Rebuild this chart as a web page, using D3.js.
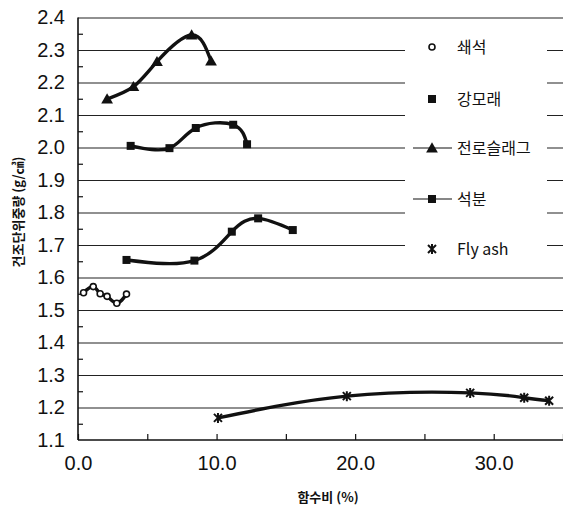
<!DOCTYPE html>
<html>
<head>
<meta charset="utf-8">
<script src="https://cdn.jsdelivr.net/npm/d3@7"></script>
<style>
  html, body { margin: 0; padding: 0; background: #fff; overflow: hidden; }
  svg { display: block; }
</style>
</head>
<body>
<div id="chart"></div>
<script>
// series (moisture content %, dry unit weight g/cm3)
const seriesNames = ["쇄석", "강모래", "전로슬래그", "석분", "Fly ash"];

const xCrushed = [0.4, 1.1, 1.6, 2.1, 2.8, 3.5];
const yCrushed = [1.553, 1.572, 1.550, 1.542, 1.521, 1.549];

const xSand = [3.5, 8.4, 11.1, 13.0, 15.5];
const ySand = [1.654, 1.652, 1.741, 1.782, 1.746];

const xSlag = [2.1, 4.0, 5.7, 8.2, 9.6];
const ySlag = [2.149, 2.187, 2.264, 2.346, 2.266];

const xDust = [3.8, 6.6, 8.5, 11.2, 12.2];
const yDust = [2.005, 1.998, 2.060, 2.070, 2.010];

const xFly = [10.1, 19.4, 28.3, 32.2, 34.0];
const yFly = [1.168, 1.235, 1.245, 1.230, 1.221];

const xTickLabels = [0, 10, 20, 30];
const yTickLabels = [1.1, 1.2, 1.3, 1.4, 1.5, 1.6, 1.7, 1.8, 1.9, 2.0, 2.1, 2.2, 2.3, 2.4];

const numFont = "Liberation Sans, Arial, sans-serif";
const krFont = "Noto Sans CJK KR, sans-serif";

const width = 563, height = 508;
const margin = { top: 17.5, right: 0, bottom: 68, left: 78 };
const innerWidth = width - margin.left - margin.right;
const innerHeight = height - margin.top - margin.bottom;

const svg = d3.select("#chart")
  .append("svg")
  .attr("width", width)
  .attr("height", height);

const inner = svg.append("g")
  .attr("transform", `translate(${margin.left},${margin.top})`);

const xScale = d3.scaleLinear().domain([0, 35]).range([0, innerWidth]);
const yScale = d3.scaleLinear().domain([1.1, 2.4]).range([innerHeight, 0]);

// tick-only axes: drop the domain path and the empty labels
const ticksOnly = (g, color, w) => {
  g.select(".domain").remove();
  g.selectAll("text").remove();
  g.selectAll("line").attr("stroke", color).attr("stroke-width", w);
};

// number labels: drop domain, set font on the texts themselves
const labelsOnly = g => {
  g.select(".domain").remove();
  g.attr("font-size", 20).attr("font-family", numFont);
  g.selectAll("text").attr("fill", "#111");
};

// gridlines
inner.append("g")
  .attr("class", "grid")
  .call(d3.axisRight(yScale).tickValues(yTickLabels.slice(1)).tickSize(innerWidth))
  .call(g => ticksOnly(g, "#222", 1.1));

// minor ticks on the y axis, pointing inward
inner.append("g")
  .call(d3.axisLeft(yScale).tickValues(d3.range(1.15, 2.4, 0.1)).tickSize(-5))
  .call(g => ticksOnly(g, "#111", 1.2));

// x ticks, pointing inward
inner.append("g")
  .attr("transform", `translate(0,${innerHeight})`)
  .call(d3.axisBottom(xScale).tickValues(d3.range(0, 36, 5)).tickSize(-6))
  .call(g => ticksOnly(g, "#111", 1.2));

// tick labels
inner.append("g")
  .call(d3.axisLeft(yScale).tickValues(yTickLabels).tickSize(0).tickPadding(13).tickFormat(d3.format(".1f")))
  .call(labelsOnly);

inner.append("g")
  .attr("transform", `translate(0,${innerHeight})`)
  .call(d3.axisBottom(xScale).tickValues(xTickLabels).tickSize(0).tickPadding(16).tickFormat(d3.format(".1f")))
  .call(labelsOnly);

// axis lines
inner.append("line")
  .attr("x1", 0).attr("x2", 0).attr("y1", 0).attr("y2", innerHeight)
  .attr("stroke", "#111").attr("stroke-width", 1.6);
inner.append("line")
  .attr("x1", 0).attr("x2", innerWidth).attr("y1", innerHeight).attr("y2", innerHeight)
  .attr("stroke", "#111").attr("stroke-width", 1.6);

// legend box (white, covers gridlines)
const legend = svg.append("g").attr("class", "legend");
legend.append("rect")
  .attr("x", 405).attr("y", 23).attr("width", 142).attr("height", 241)
  .attr("fill", "#fff");

// markers
const triangle = d3.symbol().type(d3.symbolTriangle).size(60);
const drawMarker = (g, type, x, y) => {
  if (type === "circle") {
    g.append("circle").attr("cx", x).attr("cy", y).attr("r", 3)
      .attr("fill", "#fff").attr("stroke", "#111").attr("stroke-width", 1.6);
  } else if (type === "square") {
    g.append("rect").attr("x", x - 4).attr("y", y - 4).attr("width", 8).attr("height", 8)
      .attr("fill", "#111");
  } else if (type === "triangle") {
    g.append("path").attr("d", triangle).attr("transform", `translate(${x},${y + 1})`)
      .attr("fill", "#111");
  } else {
    g.append("path")
      .attr("d", "M-4,-4L4,4M-4,4L4,-4M0,-5L0,5")
      .attr("transform", `translate(${x},${y})`)
      .attr("stroke", "#111").attr("stroke-width", 2).attr("fill", "none");
  }
};

const series = [
  { name: seriesNames[0], xs: xCrushed, ys: yCrushed, marker: "circle" },
  { name: seriesNames[1], xs: xSand, ys: ySand, marker: "square" },
  { name: seriesNames[2], xs: xSlag, ys: ySlag, marker: "triangle" },
  { name: seriesNames[3], xs: xDust, ys: yDust, marker: "square" },
  { name: seriesNames[4], xs: xFly, ys: yFly, marker: "star" }
];

const line = d3.line()
  .x(d => xScale(d[0]))
  .y(d => yScale(d[1]))
  .curve(d3.curveNatural);

series.forEach(s => {
  const pts = s.xs.map((x, i) => [x, s.ys[i]]);
  inner.append("path")
    .datum(pts)
    .attr("d", line)
    .attr("fill", "none")
    .attr("stroke", "#111")
    .attr("stroke-width", 3.4)
    .attr("stroke-linejoin", "round");
  const mg = inner.append("g");
  pts.forEach(p => drawMarker(mg, s.marker, xScale(p[0]), yScale(p[1])));
});

// legend entries
const legendRows = [47, 99, 148, 199, 249];
const legendLine = [false, false, true, true, false];
series.forEach((s, i) => {
  const y = legendRows[i];
  if (legendLine[i]) {
    legend.append("line")
      .attr("x1", 413).attr("x2", 452).attr("y1", y).attr("y2", y)
      .attr("stroke", "#111").attr("stroke-width", 1.2);
  }
  drawMarker(legend, s.marker, 432, y);
  legend.append("text")
    .attr("x", 457).attr("y", y)
    .attr("dy", "0.35em")
    .attr("font-family", krFont)
    .attr("font-size", 16)
    .attr("fill", "#111")
    .text(s.name);
});

// axis titles
svg.append("text")
  .attr("text-anchor", "middle")
  .attr("x", 328).attr("y", 502)
  .attr("font-family", krFont)
  .attr("font-size", 13)
  .attr("font-weight", 700)
  .attr("fill", "#111")
  .text("함수비 (%)");

svg.append("text")
  .attr("text-anchor", "middle")
  .attr("transform", "translate(18,212) rotate(-90)")
  .attr("dy", "0.35em")
  .attr("font-family", krFont)
  .attr("font-size", 13)
  .attr("font-weight", 700)
  .attr("fill", "#111")
  .text("건조단위중량 (g/㎤)");
</script>
</body>
</html>
